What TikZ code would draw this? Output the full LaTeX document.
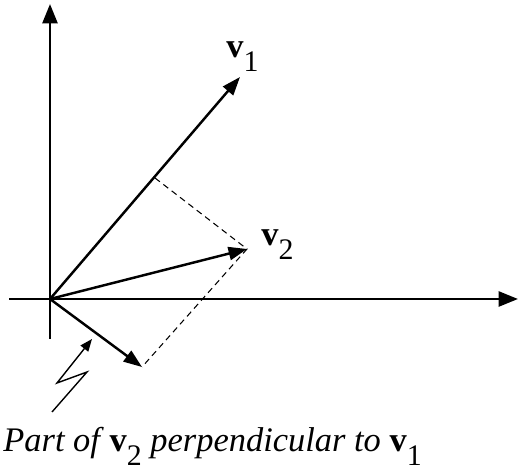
\documentclass[tikz,border=0pt]{standalone}
\usepackage{fontspec}
\setmainfont{Liberation Serif}
\usetikzlibrary{arrows.meta}
\newcommand{\vsub}[1]{{\upshape\textbf{v}\raisebox{-0.38em}{\fontsize{17}{17}\selectfont #1}}}

\begin{document}
\begin{tikzpicture}[x=0.02cm, y=-0.02cm, every node/.style={font=\fontsize{19.6}{22}\selectfont, inner sep=0}]
\tikzset{axis/.style={line width=1.5pt, -{Triangle[length=11pt, width=8.5pt]}},
  vec/.style={line width=1.4pt, -{Triangle[length=10.5pt, width=7.5pt]}},
  proj/.style={line width=0.6pt, dash pattern=on 3.5pt off 2.5pt}}
\useasboundingbox (0,0) rectangle (518,469);
% --- points ---
\coordinate (O) at (50,299);
\coordinate (xl) at (9,299);
\coordinate (xr) at (518,299);
\coordinate (yb) at (50,339);
\coordinate (yt) at (50,4);
\coordinate (v1) at (240,77);
\coordinate (v2) at (247,249);
\coordinate (p) at (155,178);
\coordinate (w) at (142,367);
% --- axes ---
\draw[axis] (xl) -- (xr);
\draw[axis] (yb) -- (yt);
% --- vectors ---
\draw[vec] (O) -- (v1);
\draw[vec] (O) -- (v2);
\draw[vec] (O) -- (w);
\draw[proj] (p) -- (v2) -- (w);
% --- labels ---
\node[anchor=base west] (l1) at (226,58) {\vsub{1}};
\node[anchor=base west] (l2) at (261,246) {\vsub{2}};
\coordinate (z0) at (52,412);
\coordinate (z1) at (87,372);
\coordinate (z2) at (57,383);
\coordinate (z3) at (92,339);
\draw[line width=0.8pt, -{Triangle[length=7pt, width=5.5pt]}] (z0) -- (z1) -- (z2) -- (z3);
\node[anchor=base west] (cap) at (3,452) {\textit{Part of}\,\vsub{2} \textit{perpendicular to} \vsub{1}};
\end{tikzpicture}
\end{document}
